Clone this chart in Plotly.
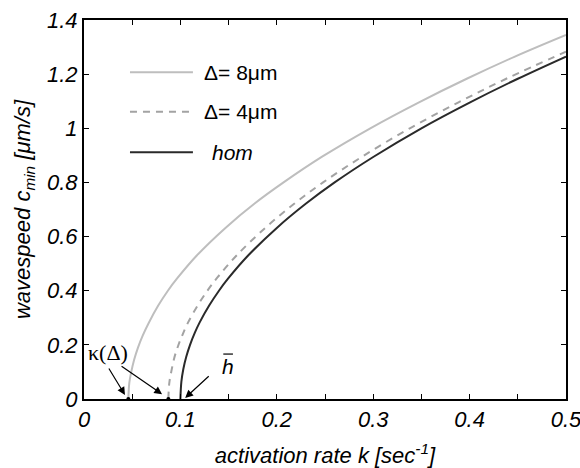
import plotly.graph_objects as go

# activation rate k [1/s] and minimal wavespeed c_min [um/s] for each case
k_hom = [0.100, 0.101, 0.103, 0.106, 0.110, 0.115, 0.120, 0.130, 0.140, 0.150,
         0.170, 0.200, 0.230, 0.260, 0.300, 0.350, 0.400, 0.450, 0.500]
c_hom = [0.000, 0.063, 0.110, 0.155, 0.200, 0.245, 0.283, 0.346, 0.400, 0.447,
         0.529, 0.632, 0.721, 0.800, 0.894, 1.000, 1.095, 1.183, 1.265]

k_d8 = [0.046, 0.047, 0.049, 0.052, 0.056, 0.061, 0.067, 0.077, 0.087, 0.097,
        0.117, 0.147, 0.177, 0.207, 0.247, 0.297, 0.347, 0.397, 0.447, 0.500]
c_d8 = [0.000, 0.060, 0.100, 0.145, 0.190, 0.235, 0.280, 0.345, 0.400, 0.447,
        0.530, 0.633, 0.722, 0.800, 0.895, 1.000, 1.095, 1.183, 1.265, 1.345]

k_d4 = [0.0875, 0.0885, 0.0905, 0.0935, 0.0975, 0.1025, 0.108, 0.118, 0.128, 0.138,
        0.158, 0.188, 0.218, 0.248, 0.288, 0.338, 0.388, 0.438, 0.500]
c_d4 = [0.000, 0.060, 0.100, 0.150, 0.195, 0.240, 0.283, 0.346, 0.400, 0.447,
        0.529, 0.632, 0.721, 0.800, 0.894, 1.000, 1.095, 1.183, 1.283]

# threshold rates kappa(Delta) marked on the k axis
kappa_k = [0.046, 0.0875]
kappa_c = [0.0, 0.0]

x_ticks = [0, 0.1, 0.2, 0.3, 0.4, 0.5]
x_text = ["0", "0.1", "0.2", "0.3", "0.4", "0.5"]
y_ticks = [0, 0.2, 0.4, 0.6, 0.8, 1.0, 1.2, 1.4]
y_text = ["0", "0.2", "0.4", "0.6", "0.8", "1", "1.2", "1.4"]

legend_labels = ["\u0394= 8\u03bcm", "\u0394= 4\u03bcm", "<i>hom</i>"]

C_D8 = "#bebebe"
C_D4 = "#a3a3a3"
C_HOM = "#2a2a2a"
FONT = "Liberation Sans"
TICK_SIZE = 22
TITLE_SIZE = 22

fig = go.Figure()
fig.add_trace(go.Scatter(x=k_d8, y=c_d8, mode="lines", line=dict(color=C_D8, width=2, shape="spline")))
fig.add_trace(go.Scatter(x=k_d4, y=c_d4, mode="lines",
                         line=dict(color=C_D4, width=2, dash="7px,6px", shape="spline")))
fig.add_trace(go.Scatter(x=k_hom, y=c_hom, mode="lines", line=dict(color=C_HOM, width=2, shape="spline")))
fig.add_trace(go.Scatter(x=kappa_k, y=kappa_c, mode="markers", cliponaxis=False,
                         marker=dict(color="black", size=4)))

axis_common = dict(showgrid=False, zeroline=False, showline=True, linecolor="black", linewidth=2,
                   mirror="ticks", ticks="inside", ticklen=5, tickwidth=1.2, tickcolor="black",
                   ticklabeloverflow="allow", automargin=False,
                   tickfont=dict(family=FONT, size=TICK_SIZE, color="black", style="italic"))

fig.update_xaxes(range=[0, 0.5], tickmode="array", tickvals=x_ticks, ticktext=x_text,
                 minor=dict(dtick=0.05, ticks="inside", ticklen=5, tickwidth=1.2,
                            tickcolor="black", showgrid=False),
                 title=dict(text="activation rate k [sec<sup>-1</sup>]", standoff=20,
                            font=dict(family=FONT, size=TITLE_SIZE, color="black", style="italic")),
                 **axis_common)
fig.update_yaxes(range=[0, 1.4], tickmode="array", tickvals=y_ticks, ticktext=y_text,
                 title=dict(text="wavespeed c<sub>min</sub> [\u03bcm/s]", standoff=10,
                            font=dict(family=FONT, size=TITLE_SIZE, color="black", style="italic")),
                 **axis_common)

# hand-drawn legend: sample lines and labels in paper coordinates
legend_y = [0.862, 0.758, 0.651]
legend_style = [dict(color=C_D8, width=2), dict(color=C_D4, width=2, dash="7px,6px"),
                dict(color=C_HOM, width=2)]
legend_x0 = [0.245, 0.245, 0.262]
for yy, st, lab, tx in zip(legend_y, legend_style, legend_labels, legend_x0):
    fig.add_shape(type="line", xref="paper", yref="paper", x0=0.0954, x1=0.226, y0=yy, y1=yy, line=st)
    fig.add_annotation(xref="paper", yref="paper", x=tx, y=yy, text=lab, showarrow=False,
                       xanchor="left", yanchor="middle",
                       font=dict(family=FONT, size=21, color="black"))

# kappa(Delta) label with arrows to both thresholds
fig.add_annotation(x=0.0249, y=0.17, text="\u03ba(\u0394)", showarrow=False,
                   font=dict(family="Liberation Serif", size=22, color="black"))
for tip_k, tip_c, ax, ay in [(0.0425, 0.015, -17, -28), (0.081, 0.018, -42, -29)]:
    fig.add_annotation(x=tip_k, y=tip_c, ax=ax, ay=ay, text="", showarrow=True,
                       arrowhead=2, arrowsize=1.3, arrowwidth=1.2, arrowcolor="black")

# h-bar label with arrow to the homogeneous threshold
fig.add_annotation(x=0.149, y=0.12, text="<i>h</i>", showarrow=False,
                   font=dict(family=FONT, size=21, color="black"))
fig.add_shape(type="line", xref="x", yref="y", x0=0.1445, x1=0.1545, y0=0.166, y1=0.166,
              line=dict(color="black", width=1.2))
fig.add_annotation(x=0.105, y=0.004, ax=25, ay=-23, text="", showarrow=True,
                   arrowhead=2, arrowsize=1.3, arrowwidth=1.2, arrowcolor="black")

fig.update_layout(width=580, height=468, margin=dict(l=84, r=14, t=20, b=69),
                  paper_bgcolor="white", plot_bgcolor="white", showlegend=False)

fig.write_html("out.html")
